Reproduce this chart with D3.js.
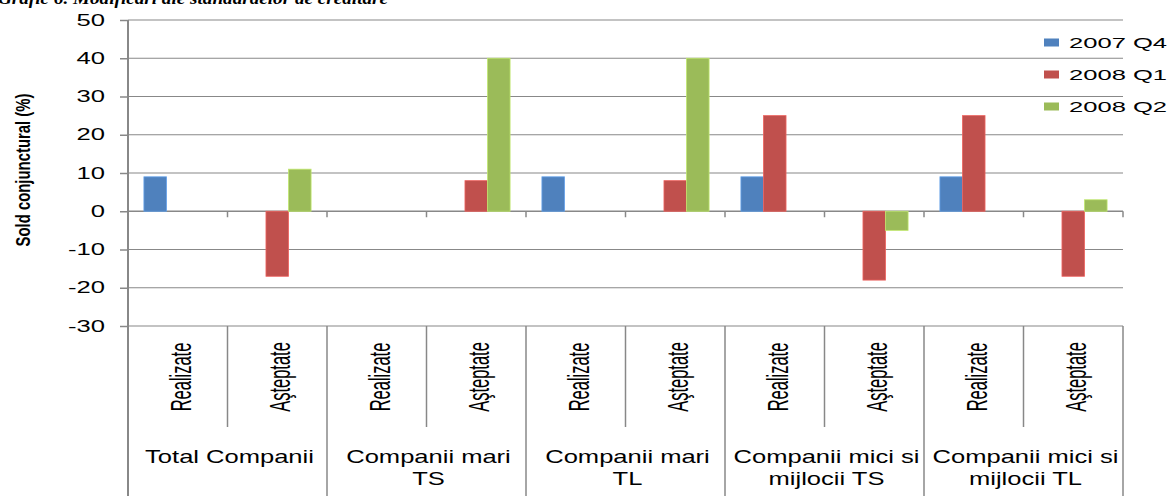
<!DOCTYPE html>
<html>
<head>
<meta charset="utf-8">
<script src="https://cdn.jsdelivr.net/npm/d3@7"></script>
<style>
  html, body { margin: 0; padding: 0; background: #fff; }
  svg { display: block; }
  text { font-family: "Liberation Sans", Arial, sans-serif; fill: #000; }
</style>
</head>
<body>
<svg id="chart" width="1171" height="496"></svg>
<script>
// Sub-categories (one bar cluster each), grouped two per company type
const categories = ["Realizate", "Aşteptate", "Realizate", "Aşteptate", "Realizate",
                    "Aşteptate", "Realizate", "Aşteptate", "Realizate", "Aşteptate"];
const groups = [
  ["Total Companii"],
  ["Companii mari", "TS"],
  ["Companii mari", "TL"],
  ["Companii mici si", "mijlocii TS"],
  ["Companii mici si", "mijlocii TL"]
];
const seriesNames = ["2007 Q4", "2008 Q1", "2008 Q2"];
const q4_2007 = [9, null, null, null, 9, null, 9, null, 9, null];
const q1_2008 = [null, -17, null, 8, null, 8, 25, -18, 25, -17];
const q2_2008 = [null, 11, null, 40, null, 40, null, -5, null, 3];
const yTicks = [-30, -20, -10, 0, 10, 20, 30, 40, 50];
const colors = ["#4F81BD", "#C0504D", "#9BBB59"];

(function draw() {
  const series = [q4_2007, q1_2008, q2_2008];
  const svg = d3.select("#chart");
  const plotLeft = 128, plotRight = 1123, plotTop = 20, plotBottom = 326;
  const gray = "#888";

  const y = d3.scaleLinear().domain([-30, 50]).range([plotBottom, plotTop]);
  const x = d3.scaleBand().domain(d3.range(categories.length))
    .range([plotLeft, plotRight]).paddingInner(0.32).paddingOuter(0.16);
  const xs = d3.scaleBand().domain(d3.range(series.length)).range([0, x.bandwidth()]);
  const step = x.step();
  const edge = i => plotLeft + i * step;   // left boundary of sub-category i

  // Title line (mostly above the visible area)
  svg.append("text")
    .attr("x", -2).attr("y", 4)
    .attr("textLength", 390).attr("lengthAdjust", "spacingAndGlyphs")
    .style("font-family", "'Liberation Serif', 'Times New Roman', serif")
    .style("font-weight", "bold").style("font-style", "italic")
    .style("font-size", "17px")
    .text("Grafic 6. Modificari ale standardelor de creditare");

  // Horizontal gridlines
  svg.append("g").selectAll("line").data(yTicks).join("line")
    .attr("x1", plotLeft).attr("x2", plotRight)
    .attr("y1", d => y(d)).attr("y2", d => y(d))
    .attr("stroke", gray).attr("stroke-width", d => d === 0 ? 1.6 : 1.2);

  // Y axis via d3.axisLeft, restyled
  const yAxis = svg.append("g").attr("transform", `translate(${plotLeft},0)`)
    .call(d3.axisLeft(y).tickValues(yTicks).tickSize(8).tickPadding(0).tickFormat(d3.format("d")));
  yAxis.select(".domain").remove();
  yAxis.selectAll(".tick line").attr("stroke", gray).attr("stroke-width", 1.5);
  yAxis.selectAll(".tick text")
    .attr("x", 0).attr("dy", null).attr("dominant-baseline", "central")
    .style("font-size", "16px").attr("fill", "#000")
    .attr("text-anchor", "end")
    .attr("transform", "translate(-23,0) scale(1.6,1)")
    .text(d => d < 0 ? "-" + Math.abs(d) : d);
  svg.append("line").attr("x1", plotLeft).attr("x2", plotLeft).attr("y1", plotTop).attr("y2", 496)
    .attr("stroke", gray).attr("stroke-width", 2);

  // Tick marks on the zero line at sub-category boundaries
  svg.append("g").selectAll("line").data(d3.range(1, categories.length + 1)).join("line")
    .attr("x1", edge).attr("x2", edge)
    .attr("y1", y(0)).attr("y2", y(0) + 6)
    .attr("stroke", gray).attr("stroke-width", 1.5);

  // Bars
  series.forEach((vals, s) => {
    svg.append("g").selectAll("rect")
      .data(vals.map((v, i) => ({ v, i })).filter(d => d.v !== null))
      .join("rect")
      .attr("x", d => x(d.i) + xs(s))
      .attr("width", xs.bandwidth())
      .attr("y", d => y(Math.max(0, d.v)))
      .attr("height", d => Math.abs(y(d.v) - y(0)))
      .attr("fill", colors[s])
      .attr("stroke", d3.color(colors[s]).brighter(0.6))
      .attr("stroke-width", 0.8);
  });

  // Category table below the plot: separators
  const seps = d3.range(1, categories.length + 1);
  svg.append("g").selectAll("line").data(seps).join("line")
    .attr("x1", edge).attr("x2", edge)
    .attr("y1", plotBottom).attr("y2", i => i % 2 === 0 ? 496 : 427)
    .attr("stroke", gray).attr("stroke-width", 1.5);

  // Rotated sub-category labels
  svg.append("g").selectAll("text").data(categories).join("text")
    .attr("transform", (d, i) => `translate(${edge(i) + step / 2 + 13},377) scale(1.75,1) rotate(-90)`)
    .attr("text-anchor", "middle")
    .style("font-size", "16.5px")
    .text(d => d);

  // Group labels
  groups.forEach((lines, g) => {
    const cx = edge(g * 2) + step + 2;
    lines.forEach((ln, k) => {
      svg.append("text")
        .attr("transform", `translate(${cx},${463 + k * 21.5}) scale(1.46,1)`)
        .attr("text-anchor", "middle")
        .style("font-size", "17.5px")
        .text(ln);
    });
  });

  // Y axis title
  svg.append("text")
    .attr("transform", "translate(30,170) scale(1.36,1) rotate(-90)")
    .attr("text-anchor", "middle")
    .attr("textLength", 153).attr("lengthAdjust", "spacingAndGlyphs")
    .style("font-size", "15px").style("font-weight", "bold")
    .text("Sold conjunctural (%)");

  // Legend
  const legend = svg.append("g").selectAll("g").data(seriesNames).join("g")
    .attr("transform", (d, i) => `translate(1044,${42.5 + i * 32})`);
  legend.append("rect").attr("x", 0).attr("y", -4).attr("width", 15).attr("height", 8)
    .attr("fill", (d, i) => colors[i]);
  legend.append("text")
    .attr("transform", "translate(25,5) scale(1.65,1)")
    .style("font-size", "15.5px")
    .text(d => d);
})();
</script>
</body>
</html>
